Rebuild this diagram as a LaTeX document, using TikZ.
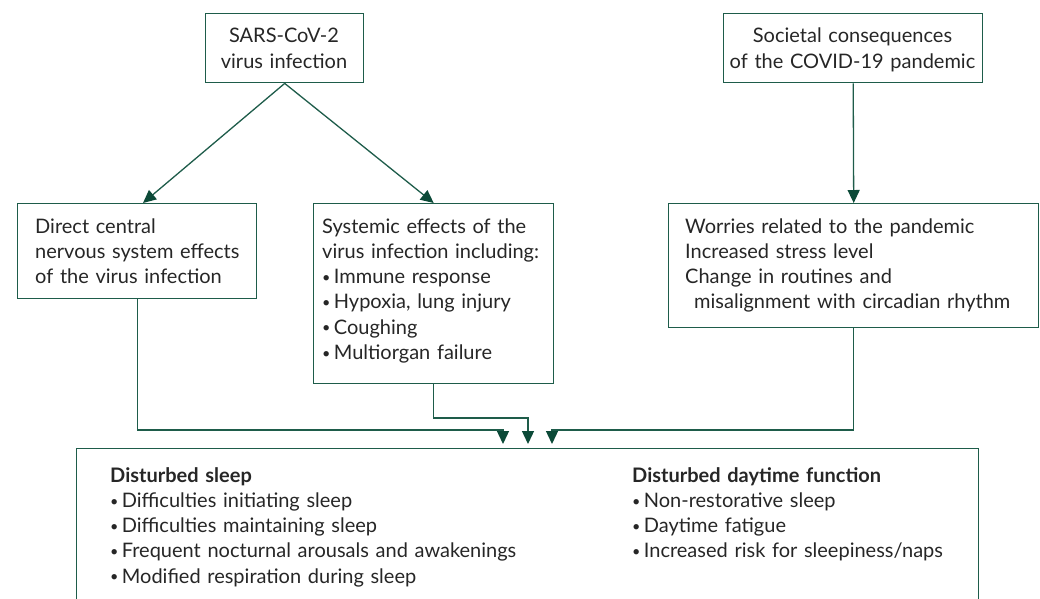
\documentclass[tikz,border=0pt]{standalone}
\usepackage{fontspec}
\setmainfont{Lato}
\usetikzlibrary{arrows.meta}
\definecolor{lc}{RGB}{30,92,74}
\definecolor{ac}{RGB}{12,74,56}
\definecolor{tc}{RGB}{38,38,38}
\newcommand{\bul}{\raisebox{0.12ex}{\scalebox{0.72}{\textbullet}}\,}
\begin{document}
\begin{tikzpicture}[x=1pt,y=-1pt,
 box/.style={draw=lc,line width=1.4pt,inner sep=0pt,anchor=north west},
 txt/.style={anchor=base west,inner sep=0pt,align=left,text width=#1,font=\fontsize{20}{25.3}\selectfont,text=tc},
 ctxt/.style={anchor=base,inner sep=0pt,align=center,text width=#1,font=\fontsize{20}{26}\selectfont,text=tc},
 con/.style={draw=lc,line width=1.3pt},
 arr/.style={con,-{Triangle[length=13pt,width=12pt,fill=ac,color=ac]}}]
\clip (0,0) rectangle (1040,598);
\useasboundingbox (0,0) rectangle (1040,598);
% boxes
\node[box,minimum width=158pt,minimum height=69pt] (sars) at (205,13) {};
\node[box,minimum width=259pt,minimum height=69pt] (soc) at (723,13) {};
\node[box,minimum width=239pt,minimum height=95pt] (cns) at (17,203) {};
\node[box,minimum width=240pt,minimum height=180pt] (sys) at (313,203) {};
\node[box,minimum width=370pt,minimum height=124pt] (wor) at (668,203) {};
\node[box,minimum width=902pt,minimum height=200pt] (out) at (76,448) {};
% texts
\node[ctxt=158pt] (sarsT) at (284,42) {SARS-CoV-2\\virus infection};
\node[ctxt=259pt] (socT) at (852.5,42) {Societal consequences\\of the COVID-19 pandemic};
\node[txt=215pt] (cnsT) at (35,233) {Direct central\\nervous system effects\\of the virus infection};
\node[txt=230pt] (sysT) at (322,233) {Systemic effects of the\\virus infection including:\\\bul Immune response\\\bul Hypoxia, lung injury\\\bul Coughing\\\bul Multiorgan failure};
\node[txt=350pt] (worT) at (685,233) {Worries related to the pandemic\\Increased stress level\\Change in routines and\\\hspace*{9pt}misalignment with circadian rhythm};
\node[txt=480pt] (slpT) at (110,482) {\textbf{Disturbed sleep}\\\bul Difficulties initiating sleep\\\bul Difficulties maintaining sleep\\\bul Frequent nocturnal arousals and awakenings\\\bul Modified respiration during sleep};
\node[txt=340pt] (dayT) at (632,482) {\textbf{Disturbed daytime function}\\\bul Non-restorative sleep\\\bul Daytime fatigue\\\bul Increased risk for sleepiness/naps};
% connectors
\coordinate (tipL) at (143,203);
\coordinate (j1) at (503,430);
\coordinate (j2) at (528,418);
\coordinate (j3) at (552,430);
\coordinate (in1) at (503,444);
\coordinate (in2) at (528,444);
\coordinate (in3) at (552,444);
\draw[arr] (sars.south) -- (tipL);
\draw[arr] (sars.south) -- (sys.north);
\draw[arr] (soc.south) -- (wor.north);
\draw[arr] (cns.south) |- (j1) -- (in1);
\draw[arr] (sys.south) |- (j2) -- (in2);
\draw[arr] (wor.south) |- (j3) -- (in3);
\end{tikzpicture}
\end{document}
